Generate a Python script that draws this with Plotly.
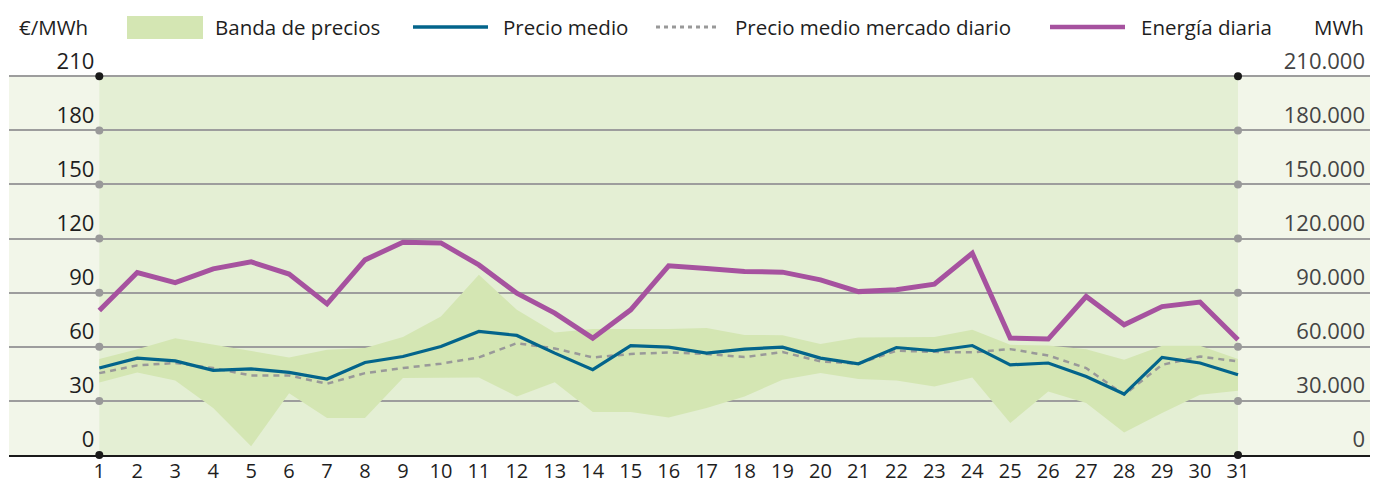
import plotly.graph_objects as go

days = list(range(1, 32))

band_low = [40.2, 45.8, 41.3, 26.0, 4.8, 34.3, 20.5, 20.5, 42.7, 42.7, 43.0, 32.5, 40.4, 23.8, 23.8,
            20.8, 26.0, 32.5, 41.7, 45.4, 42.1, 41.3, 38.0, 43.0, 17.7, 35.2, 28.8, 12.5, 23.3, 33.4, 35.6]
band_high = [53.2, 58.7, 64.8, 61.1, 57.8, 54.1, 58.3, 59.3, 65.4, 76.8, 99.9, 80.5, 67.9, 69.8, 69.8,
             69.8, 70.4, 66.6, 66.4, 61.5, 65.2, 65.2, 65.4, 69.4, 61.1, 60.7, 58.7, 52.8, 60.6, 60.6, 53.2]
precio_medio = [48.2, 53.7, 52.2, 46.9, 47.8, 45.8, 42.1, 51.3, 54.6, 60.2, 68.5, 66.3, 56.5, 47.3, 60.7,
                59.8, 56.5, 58.7, 59.8, 53.7, 50.6, 59.6, 57.8, 60.7, 50.0, 51.0, 43.5, 33.8, 54.1, 51.0, 44.5]
precio_mercado = [45.4, 49.7, 51.0, 48.2, 44.1, 44.1, 39.5, 45.4, 48.2, 50.6, 54.1, 62.0, 59.1, 54.1, 56.0,
                  56.9, 56.0, 54.3, 57.1, 51.9, 50.6, 57.8, 57.2, 56.9, 58.7, 55.2, 48.2, 33.4, 50.0, 54.6, 51.9]
energia = [80100, 101200, 95600, 103200, 107100, 100300, 83800, 108200, 118000, 117600, 105400, 89700,
           78700, 64800, 80500, 104900, 103400, 101700, 101400, 97100, 90600, 91600, 94700, 111900,
           64800, 64300, 87900, 72200, 82300, 84800, 63900]

yticks_left = [0, 30, 60, 90, 120, 150, 180, 210]
yticks_right = [v * 1000 for v in yticks_left]

FONT = "Open Sans, sans-serif"
TXT = "#1e1e1e"
OUTER = "#f2f6e9"
INNER = "#e4efd4"
BAND = "#d4e6b3"
BLUE = "#03648b"
PURPLE = "#a6529f"
GRAY = "#999999"

# page offset of the figure inside the browser page (default body margin)
OFF = 8
W, H = 1383 - OFF, 486 - OFF
# plot-area geometry in page pixels
L, R, T, B = 9, 1370, 36.0, 455.3
Y210 = 76.3
YTOP = yticks_left[-1] * (B - T) / (B - Y210)
def px(x):
    return (x - L) / (R - L)
def py(y):
    return (B - y) / (B - T)

fig = go.Figure()

fig.add_trace(go.Scatter(x=days, y=band_low, mode="lines", line=dict(width=0, color=BAND),
                         showlegend=False, hoverinfo="skip"))
fig.add_trace(go.Scatter(x=days, y=band_high, mode="lines", line=dict(width=0, color=BAND),
                         fill="tonexty", fillcolor=BAND, name="Banda de precios", showlegend=False))
fig.add_trace(go.Scatter(x=days, y=precio_mercado, mode="lines",
                         line=dict(color=GRAY, width=2.5, dash="6px,5px"),
                         name="Precio medio mercado diario", showlegend=False))
fig.add_trace(go.Scatter(x=days, y=precio_medio, mode="lines",
                         line=dict(color=BLUE, width=3.2),
                         name="Precio medio", showlegend=False))
fig.add_trace(go.Scatter(x=days, y=energia, mode="lines", yaxis="y2",
                         line=dict(color=PURPLE, width=5),
                         name="Energía diaria", showlegend=False))

# gridline dots at both ends
dot_x = [days[0]] * len(yticks_left) + [days[-1]] * len(yticks_left)
dot_y = yticks_left + yticks_left
dot_c = ["#1a1a1a" if v in (yticks_left[0], yticks_left[-1]) else "#999999" for v in yticks_left] * 2
fig.add_trace(go.Scatter(x=dot_x, y=dot_y, mode="markers", cliponaxis=False,
                         marker=dict(size=8, color=dot_c), showlegend=False, hoverinfo="skip"))

shapes = [
    dict(type="rect", xref="paper", yref="y", x0=0, x1=1, y0=yticks_left[0], y1=yticks_left[-1],
         fillcolor=OUTER, line=dict(width=0), layer="below"),
    dict(type="rect", xref="x", yref="y", x0=days[0], x1=days[-1], y0=yticks_left[0], y1=yticks_left[-1],
         fillcolor=INNER, line=dict(width=0), layer="below"),
    dict(type="line", xref="paper", yref="y", x0=0, x1=1, y0=yticks_left[-1], y1=yticks_left[-1],
         line=dict(color="#1a1a1a", width=1.5), layer="between"),
    # legend swatches
    dict(type="rect", xref="paper", yref="paper", x0=px(127), x1=px(203), y0=py(39), y1=py(16),
         fillcolor=BAND, line=dict(width=0)),
    dict(type="line", xref="paper", yref="paper", x0=px(413), x1=px(488), y0=py(27), y1=py(27),
         line=dict(color=BLUE, width=3.5)),
    dict(type="line", xref="paper", yref="paper", x0=px(656), x1=px(720), y0=py(27), y1=py(27),
         line=dict(color=GRAY, width=3, dash="4px,4px")),
    dict(type="line", xref="paper", yref="paper", x0=px(1050), x1=px(1125), y0=py(27), y1=py(27),
         line=dict(color=PURPLE, width=4.5)),
]

def ann(text, x, y, anchor="left"):
    return dict(text=text, xref="paper", yref="paper", x=px(x), y=py(y), xanchor=anchor,
                yanchor="middle", showarrow=False, font=dict(family=FONT, size=20.5, color=TXT))

annotations = [
    ann("€/MWh", 17, 27),
    ann("Banda de precios", 213, 27),
    ann("Precio medio", 501, 27),
    ann("Precio medio mercado diario", 733, 27),
    ann("Energía diaria", 1139, 27),
    ann("MWh", 1366, 27, "right"),
]

fig.update_layout(
    width=W, height=H,
    margin=dict(l=L - OFF, r=W - (R - OFF), t=T - OFF, b=H - (B - OFF), pad=0, autoexpand=False),
    paper_bgcolor="white", plot_bgcolor="white",
    separators=",.",
    font=dict(family=FONT, size=22, color=TXT),
    showlegend=False,
    shapes=shapes, annotations=annotations,
    xaxis=dict(range=[1 - 2.379, 31 + 3.478], tickvals=days, ticktext=[str(d) for d in days],
               showgrid=False, zeroline=False, showline=True, mirror=False, linecolor="#1a1a1a",
               linewidth=1.5, ticks="", ticklabelstandoff=-3, automargin=False,
               tickfont=dict(size=20)),
    yaxis=dict(range=[0, YTOP], tickvals=yticks_left, anchor="free", position=px(99.3), side="left",
               ticklabelposition="outside top", ticks="", ticklabelstandoff=5, automargin=False,
               showgrid=True, gridcolor="#9d9d9d", gridwidth=1.5, zeroline=False, showline=False),
    yaxis2=dict(range=[0, YTOP * 1000], tickvals=yticks_right, tickformat=",.0f", overlaying="y",
                side="right", anchor="x", ticklabelposition="inside top", ticks="", automargin=False,
                ticklabelstandoff=2, showgrid=False, zeroline=False, showline=False),
)

fig.write_html("out.html")
